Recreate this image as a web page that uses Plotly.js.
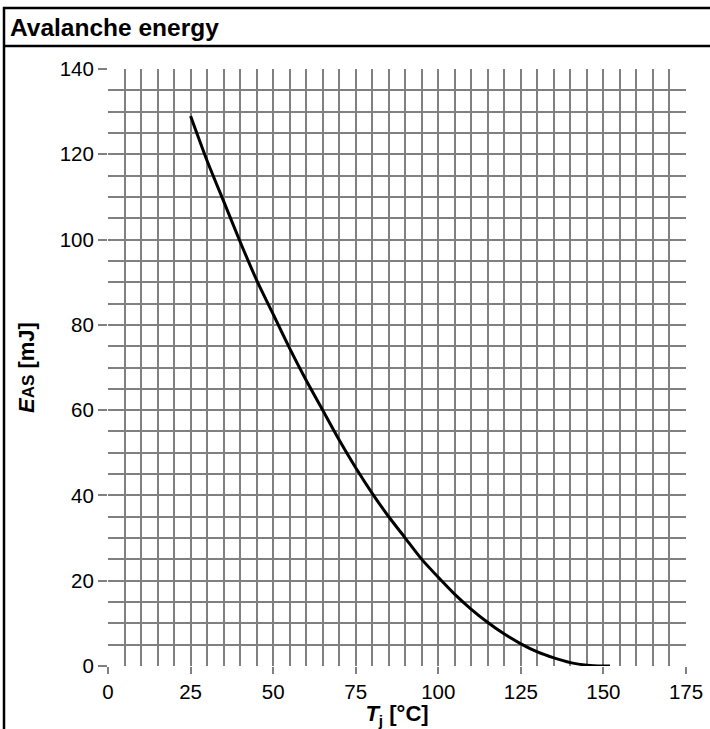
<!DOCTYPE html>
<html>
<head>
<meta charset="utf-8">
<script src="https://cdn.plot.ly/plotly-3.0.1.min.js"></script>
<style>body{margin:0;padding:0;background:#fff}#chart{width:710px;height:729px}</style>
</head>
<body>
<div id="chart"></div>
<script>
// Junction temperature Tj [°C]
const tj = [25, 30, 35, 40, 45, 50, 55, 60, 65, 70, 75, 80, 85, 90, 95, 100, 105, 110, 115, 120, 125, 130, 135, 140, 145, 150, 152];
// Avalanche energy EAS [mJ]
const eas = [129, 118.5, 109, 99.5, 90.5, 82.5, 74.5, 67, 60, 53, 46.5, 40.5, 35, 30, 25, 20.8, 16.8, 13.3, 10.2, 7.5, 5.2, 3.3, 1.9, 0.8, 0.2, 0, 0];
const xTicks = [0, 25, 50, 75, 100, 125, 150, 175];
const yTicks = [0, 20, 40, 60, 80, 100, 120, 140];

const L = 108, R = 686, T = 69, B = 666, W = 710, H = 729;
const px2x = p => (p - L) / (R - L);
const px2y = p => (B - p) / (B - T);

const border = {color: '#000', width: 2.5};
const shapes = [
  {type: 'rect', xref: 'paper', yref: 'paper', x0: px2x(4), x1: px2x(712), y0: px2y(740), y1: px2y(8), line: border, layer: 'above'},
  {type: 'line', xref: 'paper', yref: 'paper', x0: px2x(4), x1: px2x(712), y0: px2y(46), y1: px2y(46), line: border, layer: 'above'}
];

const FONT = 'Liberation Sans, Arial, sans-serif';

Plotly.newPlot('chart', [{
  x: tj, y: eas, type: 'scatter', mode: 'lines',
  line: {color: '#000', width: 3, shape: 'spline', smoothing: 0.6},
  hoverinfo: 'skip'
}], {
  width: W, height: H,
  margin: {l: L, r: W - R, t: T, b: H - B, pad: 0},
  paper_bgcolor: '#fff', plot_bgcolor: '#fff',
  showlegend: false,
  font: {family: FONT, color: '#000', size: 20.5},
  title: {text: '<b>Avalanche energy</b>', x: 10 / W, xref: 'container', xanchor: 'left', y: 1 - 27 / H, yref: 'container', yanchor: 'middle', font: {size: 24.5, color: '#000', family: FONT}},
  xaxis: {
    range: [0, 175], tickvals: xTicks, ticktext: xTicks.map(String),
    tickfont: {size: 20.5, family: FONT, color: '#000'},
    showgrid: true, gridcolor: '#808080', gridwidth: 2,
    minor: {dtick: 5, showgrid: true, gridcolor: '#808080', gridwidth: 2, ticks: ''},
    ticks: 'outside', ticklen: 7, tickwidth: 2, tickcolor: '#808080',
    showline: false, zeroline: false, fixedrange: true,
    title: {text: '<b><i>T</i><sub>j</sub> [°C]</b>', font: {size: 22, family: FONT}, standoff: 0}
  },
  yaxis: {
    range: [0, 140], tickvals: yTicks, ticktext: yTicks.map(String),
    tickfont: {size: 20.5, family: FONT, color: '#000'},
    showgrid: true, gridcolor: '#808080', gridwidth: 2,
    minor: {dtick: 5, showgrid: true, gridcolor: '#808080', gridwidth: 2, ticks: ''},
    ticks: 'outside', ticklen: 9, tickwidth: 2, tickcolor: '#808080',
    showline: false, zeroline: false, fixedrange: true,
    title: {text: '<b><i>E</i><span style="font-size:17px">AS</span> [mJ]</b>', font: {size: 22, family: FONT}, standoff: 18}
  },
  shapes: shapes
}, {displayModeBar: false, staticPlot: true});
</script>
</body>
</html>
